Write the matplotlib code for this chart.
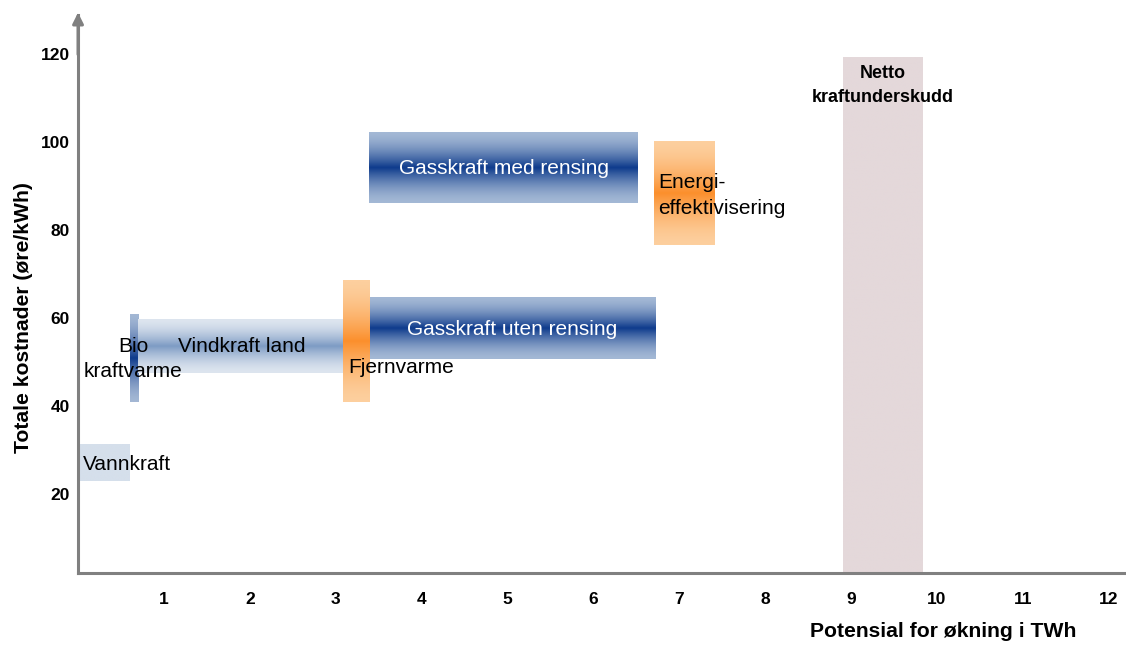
import numpy as np
import matplotlib
matplotlib.use("Agg")
import matplotlib.pyplot as plt
from matplotlib.colors import LinearSegmentedColormap

plt.rcParams['font.family'] = ['Liberation Sans', 'DejaVu Sans']

# cost blocks: potential (TWh) along x, total cost (øre/kWh) along y
names = ["Vannkraft", "Bio kraftvarme", "Vindkraft land", "Fjernvarme",
         "Gasskraft uten rensing", "Gasskraft med rensing",
         "Energieffektivisering", "Netto kraftunderskudd"]
x_start = [0.0, 0.6, 0.7, 3.09, 3.4, 3.39, 6.71, 8.91]
x_end = [0.6, 0.7, 3.09, 3.4, 6.72, 6.52, 7.42, 9.83]
y_low = [23.0, 41.0, 47.6, 41.0, 50.8, 86.2, 76.6, 2.0]
y_high = [31.2, 60.9, 59.7, 68.6, 64.7, 102.2, 100.1, 119.3]

x_ticks = list(range(1, 13))
y_ticks = [20, 40, 60, 80, 100, 120]

# fill style per block: (edge colour, centre colour)
styles = [
    ("#d5dfeb", "#d5dfeb"),
    ("#a3b7d4", "#0e3b8c"),
    ("#dde5ef", "#7d9bc4"),
    ("#fdcf9e", "#fb8f2c"),
    ("#a3b8d5", "#0e3b8c"),
    ("#a3b8d5", "#0e3b8c"),
    ("#fdcf9e", "#fb8f2c"),
    ("#e4d8da", "#e4d8da"),
]


def draw_block(ax, x0, x1, y0, y1, edge, mid):
    # vertical gradient, light at top and bottom, strongest in the middle
    s = np.linspace(0, 1, 200)
    t = (1 - np.abs(2 * s - 1)) ** 1.6
    cmap = LinearSegmentedColormap.from_list("blk", [edge, mid])
    ax.imshow(t.reshape(-1, 1), cmap=cmap, vmin=0, vmax=1, aspect='auto',
              extent=(x0, x1, y0, y1), origin='lower', interpolation='bilinear',
              zorder=2)


fig = plt.figure(figsize=(11.26, 6.46), dpi=100)
ax = fig.add_axes([0.0693, 0.113, 0.9307, 0.864])

for i in range(len(names)):
    edge, mid = styles[i]
    draw_block(ax, x_start[i], x_end[i], y_low[i], y_high[i], edge, mid)

ax.set_xlim(0, 12.2)
ax.set_ylim(2, 129)

# labels on the blocks
fs = 15
ax.text(0.06, 26.8, "Vannkraft", fontsize=fs, va='center', ha='left', zorder=5)
ax.text(0.644, 50.7, "Bio\nkraftvarme", fontsize=fs, va='center', ha='center',
        linespacing=1.37, zorder=5)
ax.text(1.91, 53.6, "Vindkraft land", fontsize=fs, va='center', ha='center', zorder=5)
ax.text(3.15, 48.8, "Fjernvarme", fontsize=fs, va='center', ha='left', zorder=5)
ax.text(5.05, 57.4, "Gasskraft uten rensing", fontsize=fs, va='center',
        ha='center', color='white', zorder=5)
ax.text(4.955, 94.0, "Gasskraft med rensing", fontsize=fs, va='center',
        ha='center', color='white', zorder=5)
ax.text(6.755, 87.9, "Energi-\neffektivisering", fontsize=fs, va='center',
        ha='left', linespacing=1.47, zorder=5)
ax.text(9.37, 113.0, "Netto\nkraftunderskudd", fontsize=13, fontweight='bold',
        va='center', ha='center', linespacing=1.55, zorder=5)

# axes: grey lines, arrow on the cost axis
for side in ['top', 'right']:
    ax.spines[side].set_visible(False)
for side in ['left', 'bottom']:
    ax.spines[side].set_color('#808080')
    ax.spines[side].set_linewidth(2.2)
ax.annotate("", xy=(0, 129.5), xytext=(0, 120), annotation_clip=False,
            arrowprops=dict(arrowstyle='-|>', color='#808080', lw=2.2,
                            mutation_scale=16, shrinkA=0, shrinkB=0))

ax.set_xticks(x_ticks)
ax.set_yticks(y_ticks)
ax.set_xticklabels([str(v) for v in x_ticks], fontweight='bold', fontsize=12.5)
ax.set_yticklabels([str(v) for v in y_ticks], fontweight='bold', fontsize=12.5)
ax.tick_params(axis='y', length=0, pad=6)
ax.tick_params(axis='x', length=0, pad=14)

fig.text(0.021, 0.509, "Totale kostnader (øre/kWh)", rotation=90, fontsize=15.2,
         fontweight='bold', ha='center', va='center')
fig.text(0.956, 0.022, "Potensial for økning i TWh", fontsize=15.2,
         fontweight='bold', ha='right', va='center')

fig.savefig("out.png", dpi=100)
